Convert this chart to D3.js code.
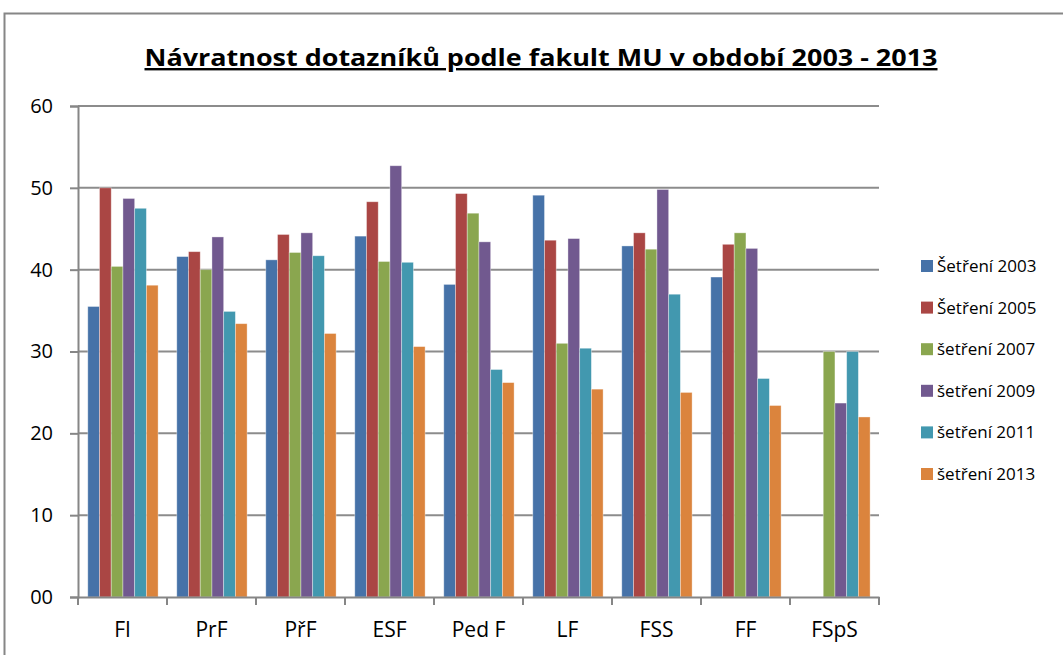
<!DOCTYPE html>
<html>
<head>
<meta charset="utf-8">
<script src="https://cdn.jsdelivr.net/npm/d3@7"></script>
<style>
  body { margin: 0; background: #fff; }
  svg { display: block; }
</style>
</head>
<body>
<script>
var faculties = ["FI", "PrF", "PřF", "ESF", "Ped F", "LF", "FSS", "FF", "FSpS"];
var seriesNames = ["Šetření 2003", "Šetření 2005", "šetření 2007", "šetření 2009", "šetření 2011", "šetření 2013"];
var s2003 = [35.5, 41.6, 41.2, 44.1, 38.2, 49.1, 42.9, 39.1, null];
var s2005 = [50.0, 42.2, 44.3, 48.3, 49.3, 43.6, 44.5, 43.1, null];
var s2007 = [40.4, 40.0, 42.1, 41.0, 46.9, 31.0, 42.5, 44.5, 30.0];
var s2009 = [48.7, 44.0, 44.5, 52.7, 43.4, 43.8, 49.8, 42.6, 23.7];
var s2011 = [47.5, 34.9, 41.7, 40.9, 27.8, 30.4, 37.0, 26.7, 30.0];
var s2013 = [38.1, 33.4, 32.2, 30.6, 26.2, 25.4, 25.0, 23.4, 22.0];
var yTicks = [0, 10, 20, 30, 40, 50, 60];
var yTickLabels = ["00", "10", "20", "30", "40", "50", "60"];

var allSeries = [s2003, s2005, s2007, s2009, s2011, s2013];
var colors = ["#4672a8", "#aa4644", "#8aa64f", "#71598f", "#4298af", "#db843d"];

var width = 1063, height = 655;
var plotLeft = 78, plotRight = 879, plotTop = 106, plotBottom = 597;

var svg = d3.select("body").append("svg")
    .attr("width", width)
    .attr("height", height);

// outer chart frame (cropped)
svg.append("path")
    .attr("d", "M4.5," + height + "V13.5H" + width)
    .attr("fill", "none")
    .attr("stroke", "#868686")
    .attr("stroke-width", 2);

var y = d3.scaleLinear().domain([0, 60]).range([plotBottom, plotTop]);
var x0 = d3.scaleBand().domain(faculties).range([plotLeft, plotRight]);
var bw = x0.bandwidth();
var x1 = d3.scaleBand().domain(d3.range(allSeries.length)).range([bw * 0.11, bw * 0.9]);

// gridlines
svg.append("g")
    .selectAll("line")
    .data(yTicks.slice(1))
    .enter()
    .append("line")
    .attr("x1", plotLeft)
    .attr("x2", plotRight)
    .attr("y1", function(d) { return y(d); })
    .attr("y2", function(d) { return y(d); })
    .attr("stroke", "#8c8c8c")
    .attr("stroke-width", 2);

// bars
var g = svg.selectAll("g.cat")
    .data(faculties)
    .enter()
    .append("g")
    .attr("class", "cat")
    .attr("transform", function(d) { return "translate(" + x0(d) + ",0)"; });

g.selectAll("rect")
    .data(function(d, i) {
        return allSeries.map(function(s, j) { return {s: j, v: s[i]}; })
                        .filter(function(e) { return e.v != null; });
    })
    .enter()
    .append("rect")
    .attr("x", function(d) { return x1(d.s); })
    .attr("width", x1.bandwidth())
    .attr("y", function(d) { return y(d.v); })
    .attr("height", function(d) { return plotBottom - y(d.v); })
    .attr("fill", function(d) { return colors[d.s]; })
    .attr("stroke", "rgba(255,255,255,0.45)")
    .attr("stroke-width", 0.8);

// y axis
var yAxis = d3.axisLeft(y)
    .tickValues(yTicks)
    .tickSize(8)
    .tickPadding(17)
    .tickFormat(function(d, i) { return yTickLabels[i]; });
var ya = svg.append("g")
    .attr("transform", "translate(" + plotLeft + ",0)")
    .call(yAxis);
ya.select(".domain").attr("stroke", "#868686").attr("stroke-width", 2);
ya.selectAll(".tick line").attr("stroke", "#868686").attr("stroke-width", 2);
ya.selectAll(".tick text")
    .attr("font-family", "Open Sans, sans-serif")
    .attr("font-size", "20px")
    .attr("fill", "#000");

// x axis
var xa = svg.append("g")
    .attr("transform", "translate(0," + plotBottom + ")")
    .call(d3.axisBottom(x0).tickSize(0).tickPadding(25));
xa.select(".domain").attr("stroke", "#868686").attr("stroke-width", 2);
xa.selectAll(".tick text")
    .attr("font-family", "Open Sans, sans-serif")
    .attr("font-size", "21px")
    .attr("fill", "#000");
// category boundary ticks
xa.selectAll("line.sep")
    .data(faculties.concat([null]))
    .enter()
    .append("line")
    .attr("class", "sep")
    .attr("x1", function(d) { return d == null ? plotRight : x0(d); })
    .attr("x2", function(d) { return d == null ? plotRight : x0(d); })
    .attr("y1", 0)
    .attr("y2", 8)
    .attr("stroke", "#868686")
    .attr("stroke-width", 2);

// title
svg.append("text")
    .attr("x", 541)
    .attr("y", 66)
    .attr("text-anchor", "middle")
    .attr("font-family", "Open Sans, sans-serif")
    .attr("font-weight", "bold")
    .attr("font-size", "24px")
    .attr("text-decoration", "underline")
    .attr("textLength", 793)
    .attr("lengthAdjust", "spacingAndGlyphs")
    .text("Návratnost dotazníků podle fakult MU v období 2003 - 2013");

// legend
var lg = svg.selectAll("g.leg")
    .data(seriesNames)
    .enter()
    .append("g")
    .attr("class", "leg")
    .attr("transform", function(d, i) { return "translate(921," + (266 + i * 41.6) + ")"; });
lg.append("rect")
    .attr("x", 0)
    .attr("y", -6)
    .attr("width", 12)
    .attr("height", 12)
    .attr("fill", function(d, i) { return colors[i]; });
lg.append("text")
    .attr("x", 16)
    .attr("y", 6)
    .attr("font-family", "Open Sans, sans-serif")
    .attr("font-size", "17px")
    .attr("fill", "#000")
    .text(function(d) { return d; });
</script>
</body>
</html>
